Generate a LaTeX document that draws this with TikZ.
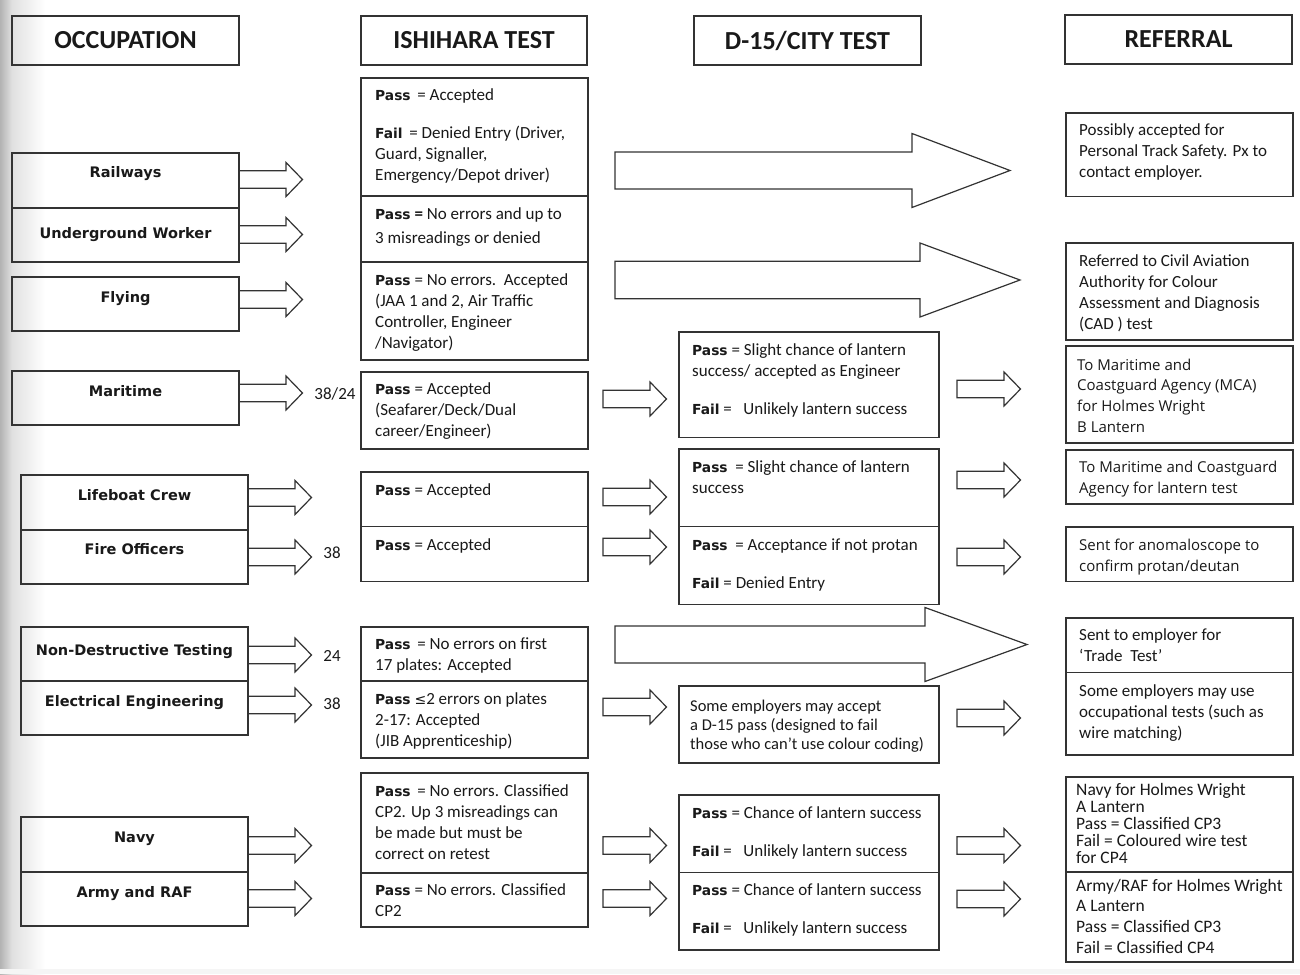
\documentclass[tikz,border=0pt]{standalone}
\usepackage{fontspec}
\setmainfont{Carlito}
\newfontfamily\djv{DejaVu Sans}
\newfontfamily\osans{Open Sans}
\definecolor{linec}{gray}{0.2}
\definecolor{textc}{gray}{0.1}
\newcommand\PS{{\djv\bfseries\fontsize{13.8}{21}\selectfont Pass}}
\newcommand\FL{{\djv\bfseries\fontsize{13.8}{21}\selectfont Fail}}
\newcommand\LEQ{{\djv\fontsize{14}{21}\selectfont ≤}}
\newcommand\fstrut{\rule{0pt}{15pt}}
\tikzset{
  bx/.style={draw=linec, line width=1.4pt, rectangle, inner sep=0pt, outer sep=0pt, anchor=north west},
  hd/.style={bx, font=\fontsize{26}{30}\selectfont\bfseries, text=textc},
  occt/.style={anchor=base, inner sep=0pt, font=\djv\bfseries\fontsize{14.5}{18}\selectfont, text=textc},
  tx/.style={anchor=north west, inner sep=0pt, align=left, font=\fontsize{17}{21}\selectfont, text=textc},
  num/.style={anchor=center, inner sep=0pt, font=\fontsize{17}{21}\selectfont, text=textc},
  blk/.style={draw=linec, line width=1.2pt, line join=miter},
}
% box: name, x1, y1, x2, y2
\newcommand\bxn[5]{\node[bx, minimum width={(#4)-(#2)}, minimum height={(#5)-(#3)}] (#1) at (#2,#3) {};}
% text: [style], name, x, first baseline, text
\newcommand\txn[5][]{\node[tx,#1] (#2) at (#3,#4-15) {\fstrut#5};}
% small block arrow: shaft left x, centre y
\newcommand\sarr[2]{\draw[blk] (#1,#2-8.7) -- (#1+47,#2-8.7) -- (#1+47,#2-17) -- (#1+63.5,#2) -- (#1+47,#2+17) -- (#1+47,#2+8.7) -- (#1,#2+8.7) -- cycle;}
% big block arrow: x0, x1 (head start), x2 (tip), yc, shaft half, head half
\newcommand\barr[6]{\draw[blk] (#1,#4-#5) -- (#2,#4-#5) -- (#2,#4-#6) -- (#3,#4) -- (#2,#4+#6) -- (#2,#4+#5) -- (#1,#4+#5) -- cycle;}
\begin{document}
\begin{tikzpicture}[x=1pt,y=-1pt]
\useasboundingbox (0,0) rectangle (1300,974);
\fill[white] (0,0) rectangle (1300,974);
\shade[left color=black!30, right color=black!12] (0,0) rectangle (12,974);
\shade[left color=black!12, right color=white] (12,0) rectangle (45,974);
\fill[black!4] (0,969) rectangle (1300,974);

% headers
\node[hd, minimum width=227, minimum height=49] (hocc) at (12,16) {OCCUPATION};
\node[hd, minimum width=226, minimum height=49] (hish) at (361,16) {ISHIHARA TEST};
\node[hd, minimum width=227, minimum height=49] (hdct) at (694,16) {D-15/CITY TEST};
\node[hd, minimum width=227, minimum height=49] (href) at (1065,15) {REFERRAL};

% occupation boxes
\bxn{rw}{12}{153}{239}{208}
\bxn{ug}{12}{208}{239}{262}
\bxn{fl}{12}{277}{239}{331}
\bxn{ma}{12}{371}{239}{425}
\bxn{lb}{21}{475}{248}{530}
\bxn{fo}{21}{530}{248}{584}
\bxn{nd}{21}{627}{248}{681}
\bxn{ee}{21}{681}{248}{735}
\bxn{nv}{21}{817}{248}{872}
\bxn{ar}{21}{872}{248}{926}
\node[occt] (trw) at (125.5,177.5) {Railways};
\node[occt] (tug) at (125.5,238.5) {Underground Worker};
\node[occt] (tfl) at (125.5,302.5) {Flying};
\node[occt] (tma) at (125.5,396.5) {Maritime};
\node[occt] (tlb) at (134.5,500.5) {Lifeboat Crew};
\node[occt] (tfo) at (134.5,554.5) {Fire Officers};
\node[occt] (tnd) at (134.5,655.5) {Non-Destructive Testing};
\node[occt] (tee) at (134.5,706.5) {Electrical Engineering};
\node[occt] (tnv) at (134.5,842.5) {Navy};
\node[occt] (tar) at (134.5,897.5) {Army and RAF};

% occupation arrows
\sarr{239}{179.5}
\sarr{239}{234.5}
\sarr{239}{299.5}
\sarr{239}{393}
\sarr{248}{497.5}
\sarr{248}{557}
\sarr{248}{655}
\sarr{248}{705}
\sarr{248}{845.5}
\sarr{248}{898.5}
\node[num] (n1) at (335,394) {38/24};
\node[num] (n2) at (332,553) {38};
\node[num] (n3) at (332,656) {24};
\node[num] (n4) at (332,704) {38};

% Ishihara boxes
\bxn{i1}{361}{78}{588}{196}
\bxn{i2}{361}{196}{588}{262}
\bxn{i3}{361}{262}{588}{360}
\bxn{i4}{361}{372}{588}{449}
\bxn{i5}{361}{472}{588}{526.5}
\bxn{i6}{361}{526.5}{588}{581.5}
\bxn{i7}{361}{627}{588}{681}
\bxn{i8}{361}{681}{588}{758}
\bxn{i9}{361}{773}{588}{873}
\bxn{i10}{361}{873}{588}{927}
\txn{ti1}{375}{100}{\PS{} \,= Accepted\\[17pt]\FL{} \,= Denied Entry (Driver,\\Guard, Signaller,\\Emergency/Depot driver)}
\txn{ti2}{375}{219}{\PS{} \textbf{=} No errors and up to\\[3pt]3 misreadings or denied}
\txn{ti3}{375}{285}{\PS{} = No errors.\ \ Accepted\\(JAA 1 and 2, Air Traffic\\Controller, Engineer\\/Navigator)}
\txn{ti4}{375}{394}{\PS{} = Accepted\\(Seafarer/Deck/Dual\\career/Engineer)}
\txn{ti5}{375}{495.5}{\PS{} = Accepted}
\txn{ti6}{375}{550}{\PS{} = Accepted}
\txn{ti7}{375}{649}{\PS{} \,= No errors on first\\17 plates: Accepted}
\txn{ti8}{375}{704}{\PS{} \LEQ2 errors on plates\\2-17: Accepted\\(JIB Apprenticeship)}
\txn{ti9}{375}{796}{\PS{} \,= No errors. Classified\\CP2. Up 3 misreadings can\\be made but must be\\correct on retest}
\txn{ti10}{375}{895}{\PS{} = No errors. Classified\\CP2}

% big arrows
\barr{615}{912}{1010}{170.5}{18.5}{37}
\barr{615}{920}{1020}{280}{18.7}{37}
\barr{615}{925}{1027}{644.5}{18.5}{37}

% Ishihara -> D-15 arrows
\sarr{603}{399}
\sarr{603}{497}
\sarr{603}{547}
\sarr{603}{707}
\sarr{603}{845.5}
\sarr{603}{898.5}

% D-15 boxes
\bxn{d1}{679}{332}{939}{437.5}
\bxn{d2}{679}{449}{939}{526.5}
\bxn{d3}{679}{526.5}{939}{604.5}
\bxn{d4}{679}{686}{939}{763}
\bxn{d5}{679}{795}{939}{872.5}
\bxn{d6}{679}{872.5}{939}{950}
\txn{td1}{692}{355}{\PS{} = Slight chance of lantern\\success/ accepted as Engineer\\[17pt]\FL{} =\ \ \ Unlikely lantern success}
\txn{td2}{692}{472}{\PS{} \ = Slight chance of lantern\\success}
\txn{td3}{692}{550}{\PS{} \ = Acceptance if not protan\\[17pt]\FL{} = Denied Entry}
\txn[font=\fontsize{16.5}{19}\selectfont]{td4}{690}{711}{Some employers may accept\\a D-15 pass (designed to fail\\those who can’t use colour coding)}
\txn{td5}{692}{818}{\PS{} = Chance of lantern success\\[17pt]\FL{} =\ \ \ Unlikely lantern success}
\txn{td6}{692}{895}{\PS{} = Chance of lantern success\\[17pt]\FL{} =\ \ \ Unlikely lantern success}

% D-15 -> referral arrows
\sarr{957}{389}
\sarr{957}{480}
\sarr{957}{557}
\sarr{957}{718}
\sarr{957}{845.5}
\sarr{957}{899}

% referral boxes
\bxn{r1}{1066}{113}{1293}{196.5}
\bxn{r2}{1066}{243}{1293}{340}
\bxn{r3}{1066}{346}{1293}{443}
\bxn{r4}{1066}{450}{1293}{504}
\bxn{r5}{1066}{527}{1293}{581.5}
\bxn{r6}{1066}{618}{1293}{672.5}
\bxn{r7}{1066}{672.5}{1293}{755}
\bxn{r8}{1066}{777}{1293}{872}
\bxn{r9}{1066}{872}{1293}{962}
\txn{tr1}{1079}{135}{Possibly accepted for\\Personal Track Safety. Px to\\contact employer.}
\txn{tr2}{1079}{266}{Referred to Civil Aviation\\Authority for Colour\\Assessment and Diagnosis\\(CAD ) test}
\txn[font=\osans\fontsize{15}{20.7}\selectfont]{tr3}{1077}{370}{To Maritime and\\Coastguard Agency (MCA)\\for Holmes Wright\\B Lantern}
\txn[font=\osans\fontsize{15}{21}\selectfont]{tr4}{1079}{472}{To Maritime and Coastguard\\Agency for lantern test}
\txn[font=\osans\fontsize{15}{21}\selectfont]{tr5}{1079}{550}{Sent for anomaloscope to\\confirm protan/deutan}
\txn{tr6}{1079}{640}{Sent to employer for\\‘Trade\ \ Test’}
\txn{tr7}{1079}{696}{Some employers may use\\occupational tests (such as\\wire matching)}
\txn[font=\fontsize{17.5}{17}\selectfont]{tr8}{1076}{795.5}{Navy for Holmes Wright\\A Lantern\\Pass = Classified CP3\\Fail = Coloured wire test\\for CP4}
\txn[font=\fontsize{17.5}{20.7}\selectfont]{tr9}{1076}{891}{Army/RAF for Holmes Wright\\A Lantern\\Pass = Classified CP3\\Fail = Classified CP4}
\end{tikzpicture}
\end{document}
